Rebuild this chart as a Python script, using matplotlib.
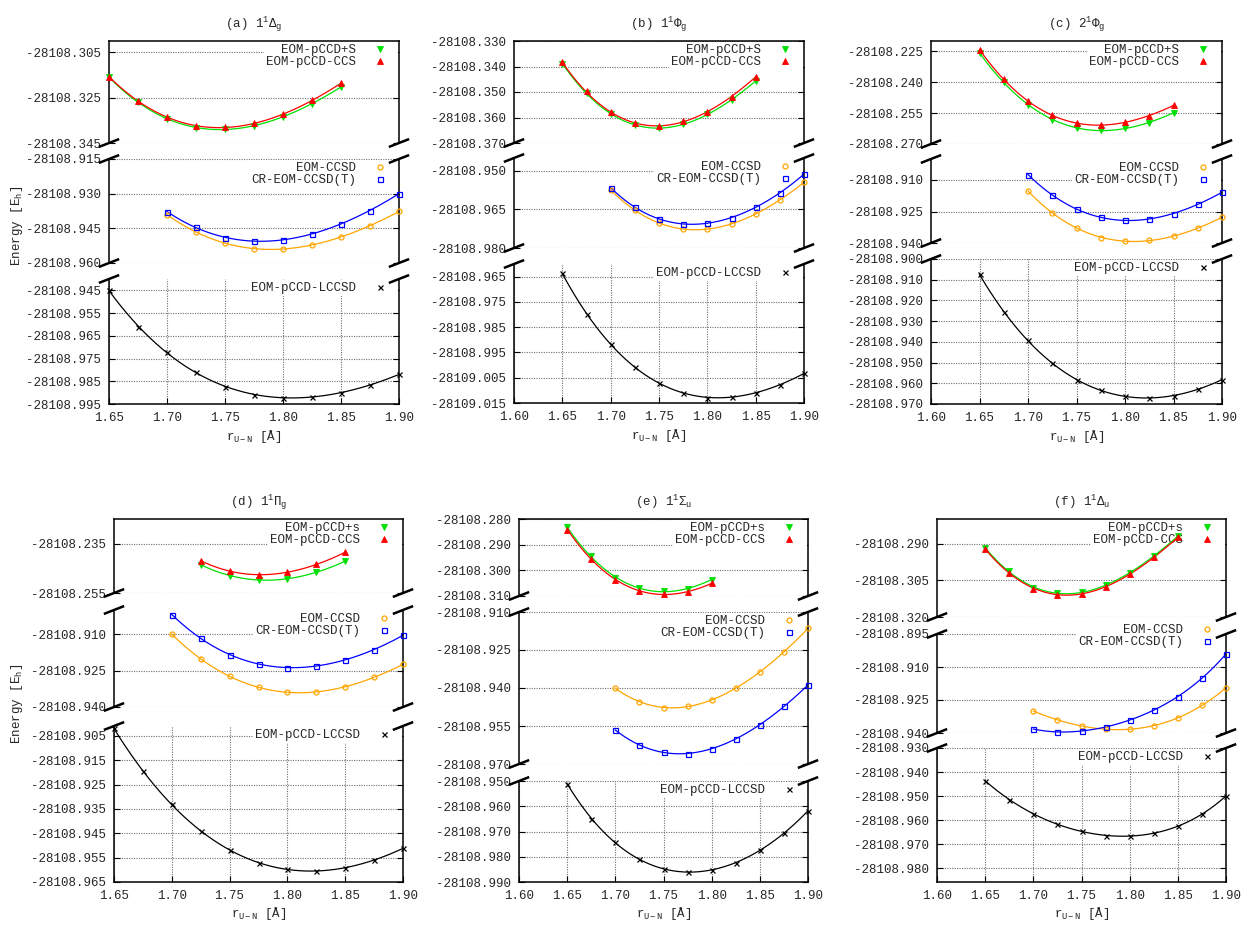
import numpy as np
import matplotlib.pyplot as plt
from matplotlib.lines import Line2D
from matplotlib.ticker import FormatStrFormatter

plt.rcParams['font.family'] = ['Liberation Mono', 'DejaVu Sans Mono']
plt.rcParams['mathtext.fontset'] = 'custom'
plt.rcParams['mathtext.rm'] = 'Liberation Mono'
plt.rcParams['mathtext.it'] = 'Liberation Mono'
plt.rcParams['mathtext.bf'] = 'Liberation Mono:bold'
plt.rcParams['axes.unicode_minus'] = False

# U-N bond lengths [Angstrom]
R_ALL = [1.65, 1.675, 1.70, 1.725, 1.75, 1.775, 1.80, 1.825, 1.85, 1.875, 1.90]
R_PCCD = R_ALL[:9]       # 1.65 .. 1.85
R_PCCD_D = R_ALL[3:9]    # 1.725 .. 1.85
R_PCCD_E = R_ALL[:7]     # 1.65 .. 1.80
R_CC = R_ALL[2:]         # 1.70 .. 1.90

# (a) 1 1Delta_g
a_pccd_s = [-28108.3160, -28108.3270, -28108.3343, -28108.3382, -28108.3389,
            -28108.3375, -28108.3334, -28108.3276, -28108.3203]
a_pccd_ccs = [-28108.3158, -28108.3263, -28108.3337, -28108.3375, -28108.3380,
              -28108.3363, -28108.3324, -28108.3262, -28108.3186]
a_ccsd = [-28108.9391, -28108.9465, -28108.9515, -28108.9538, -28108.9539,
          -28108.9522, -28108.9487, -28108.9439, -28108.9377]
a_cr = [-28108.9378, -28108.9446, -28108.9490, -28108.9505, -28108.9500,
        -28108.9474, -28108.9430, -28108.9373, -28108.9300]
a_lccsd = [-28108.9450, -28108.9610, -28108.9722, -28108.9811, -28108.9873, -28108.9909,
           -28108.9922, -28108.9919, -28108.9900, -28108.9866, -28108.9820]

# (b) 1 1Phi_g
b_pccd_s = [-28108.3389, -28108.3503, -28108.3587, -28108.3630, -28108.3641,
            -28108.3626, -28108.3588, -28108.3532, -28108.3456]
b_pccd_ccs = [-28108.3384, -28108.3498, -28108.3580, -28108.3622, -28108.3633,
              -28108.3615, -28108.3577, -28108.3519, -28108.3440]
b_ccsd = [-28108.9574, -28108.9654, -28108.9702, -28108.9726, -28108.9726,
          -28108.9707, -28108.9668, -28108.9612, -28108.9545]
b_cr = [-28108.9565, -28108.9642, -28108.9686, -28108.9707, -28108.9703,
        -28108.9682, -28108.9642, -28108.9585, -28108.9513]
b_lccsd = [-28108.9637, -28108.9799, -28108.9915, -28109.0008, -28109.0072, -28109.0110,
           -28109.0129, -28109.0126, -28109.0109, -28109.0078, -28109.0033]

# (c) 2 1Phi_g
c_pccd_s = [-28108.2258, -28108.2400, -28108.2509, -28108.2582, -28108.2621,
            -28108.2634, -28108.2624, -28108.2597, -28108.2548]
c_pccd_ccs = [-28108.2242, -28108.2385, -28108.2493, -28108.2561, -28108.2598,
              -28108.2608, -28108.2595, -28108.2562, -28108.2513]
c_ccsd = [-28108.9153, -28108.9255, -28108.9329, -28108.9374, -28108.9391,
          -28108.9387, -28108.9368, -28108.9330, -28108.9277]
c_cr = [-28108.9074, -28108.9172, -28108.9238, -28108.9278, -28108.9292,
        -28108.9286, -28108.9260, -28108.9215, -28108.9159]
c_lccsd = [-28108.9074, -28108.9256, -28108.9393, -28108.9502, -28108.9583, -28108.9634,
           -28108.9663, -28108.9671, -28108.9660, -28108.9628, -28108.9583]

# (d) 1 1Pi_g
d_pccd_s = [-28108.2435, -28108.2480, -28108.2496, -28108.2493, -28108.2466, -28108.2421]
d_pccd_ccs = [-28108.2419, -28108.2461, -28108.2476, -28108.2466, -28108.2434, -28108.2385]
d_ccsd = [-28108.9100, -28108.9201, -28108.9274, -28108.9319, -28108.9339,
          -28108.9338, -28108.9316, -28108.9278, -28108.9224]
d_cr = [-28108.9019, -28108.9116, -28108.9184, -28108.9223, -28108.9238,
        -28108.9230, -28108.9205, -28108.9164, -28108.9104]
d_lccsd = [-28108.9020, -28108.9196, -28108.9331, -28108.9440, -28108.9519, -28108.9571,
           -28108.9598, -28108.9605, -28108.9591, -28108.9560, -28108.9512]

# (e) 1 1Sigma_u
e_pccd_s = [-28108.2833, -28108.2945, -28108.3028, -28108.3070, -28108.3082,
            -28108.3071, -28108.3036]
e_pccd_ccs = [-28108.2841, -28108.2954, -28108.3037, -28108.3082, -28108.3092,
              -28108.3083, -28108.3051]
e_ccsd = [-28108.9401, -28108.9454, -28108.9477, -28108.9473, -28108.9447,
          -28108.9401, -28108.9337, -28108.9257, -28108.9165]
e_cr = [-28108.9566, -28108.9625, -28108.9654, -28108.9659, -28108.9639,
        -28108.9601, -28108.9545, -28108.9473, -28108.9388]
e_lccsd = [-28108.9510, -28108.9651, -28108.9743, -28108.9808, -28108.9849, -28108.9862,
           -28108.9852, -28108.9823, -28108.9774, -28108.9707, -28108.9618]

# (f) 1 1Delta_u
f_pccd_s = [-28108.2918, -28108.3013, -28108.3080, -28108.3103, -28108.3098,
            -28108.3071, -28108.3019, -28108.2952, -28108.2870]
f_pccd_ccs = [-28108.2923, -28108.3019, -28108.3084, -28108.3109, -28108.3105,
              -28108.3076, -28108.3026, -28108.2957, -28108.2875]
f_ccsd = [-28108.9300, -28108.9341, -28108.9368, -28108.9382, -28108.9382,
          -28108.9368, -28108.9332, -28108.9273, -28108.9195]
f_cr = [-28108.9382, -28108.9395, -28108.9391, -28108.9373, -28108.9341,
        -28108.9295, -28108.9236, -28108.9150, -28108.9041]
f_lccsd = [-28108.9436, -28108.9515, -28108.9575, -28108.9617, -28108.9645, -28108.9665,
           -28108.9668, -28108.9655, -28108.9625, -28108.9575, -28108.9500]

W, H = 1242, 925
TXT = '#262626'
FS = 9

STYLE = {
    'pccd_s': dict(color='#00e000', marker='v', ms=4.2, mfc='#00e000', mew=0.6),
    'pccd_ccs': dict(color='#ff0000', marker='^', ms=4.2, mfc='#ff0000', mew=0.6),
    'ccsd': dict(color='#ffa500', marker='o', ms=3.6, mfc='none', mew=0.9),
    'cr': dict(color='#0000ff', marker='s', ms=3.6, mfc='none', mew=0.9),
    'lccsd': dict(color='black', marker='x', ms=3.6, mew=0.9),
}
LABELS = {'ccsd': 'EOM-CCSD', 'cr': 'CR-EOM-CCSD(T)', 'lccsd': 'EOM-pCCD-LCCSD',
          'pccd_ccs': 'EOM-pCCD-CCS'}


def tick_range(a, b, step):
    return np.round(np.arange(a, b + step / 2, step), 4)


panels = [
    dict(title='(a) 1$^{1}$Δ$_{g}$', cols=(109, 399), xlim=(1.65, 1.90), plus='EOM-pCCD+S',
         rows=[(41, 143), (159, 263), (279, 404)],
         ylims=[(-28108.345, -28108.300), (-28108.960, -28108.915), (-28108.995, -28108.940)],
         yticks=[(-28108.345, -28108.305, 0.020), (-28108.960, -28108.915, 0.015),
                 (-28108.995, -28108.945, 0.010)],
         top=[(R_PCCD, a_pccd_s), (R_PCCD, a_pccd_ccs)],
         mid=[(R_CC, a_ccsd), (R_CC, a_cr)], bot=(R_ALL, a_lccsd)),
    dict(title='(b) 1$^{1}$Φ$_{g}$', cols=(514, 804), xlim=(1.60, 1.90), plus='EOM-pCCD+S',
         rows=[(41, 143), (158, 248), (264, 403)],
         ylims=[(-28108.370, -28108.330), (-28108.980, -28108.945), (-28109.015, -28108.960)],
         yticks=[(-28108.370, -28108.330, 0.010), (-28108.980, -28108.950, 0.015),
                 (-28109.015, -28108.965, 0.010)],
         top=[(R_PCCD, b_pccd_s), (R_PCCD, b_pccd_ccs)],
         mid=[(R_CC, b_ccsd), (R_CC, b_cr)], bot=(R_ALL, b_lccsd)),
    dict(title='(c) 2$^{1}$Φ$_{g}$', cols=(931, 1222), xlim=(1.60, 1.90), plus='EOM-pCCD+S',
         rows=[(41, 144), (159, 243), (259, 404)],
         ylims=[(-28108.270, -28108.220), (-28108.940, -28108.900), (-28108.970, -28108.900)],
         yticks=[(-28108.270, -28108.225, 0.015), (-28108.940, -28108.910, 0.015),
                 (-28108.970, -28108.900, 0.010)],
         top=[(R_PCCD, c_pccd_s), (R_PCCD, c_pccd_ccs)],
         mid=[(R_CC, c_ccsd), (R_CC, c_cr)], bot=(R_ALL, c_lccsd)),
    dict(title='(d) 1$^{1}$Π$_{g}$', cols=(114, 403), xlim=(1.65, 1.90), plus='EOM-pCCD+s',
         rows=[(519, 593), (610, 707), (726, 882)],
         ylims=[(-28108.255, -28108.225), (-28108.940, -28108.900), (-28108.965, -28108.901)],
         yticks=[(-28108.255, -28108.235, 0.020), (-28108.940, -28108.910, 0.015),
                 (-28108.965, -28108.905, 0.010)],
         top=[(R_PCCD_D, d_pccd_s), (R_PCCD_D, d_pccd_ccs)],
         mid=[(R_CC, d_ccsd), (R_CC, d_cr)], bot=(R_ALL, d_lccsd)),
    dict(title='(e) 1$^{1}$Σ$_{u}$', cols=(519, 808), xlim=(1.60, 1.90), plus='EOM-pCCD+s',
         rows=[(519, 596), (612, 764), (781, 882)],
         ylims=[(-28108.310, -28108.280), (-28108.970, -28108.910), (-28108.990, -28108.950)],
         yticks=[(-28108.310, -28108.280, 0.010), (-28108.970, -28108.910, 0.015),
                 (-28108.990, -28108.950, 0.010)],
         top=[(R_PCCD_E, e_pccd_s), (R_PCCD_E, e_pccd_ccs)],
         mid=[(R_CC, e_ccsd), (R_CC, e_cr)], bot=(R_ALL, e_lccsd)),
    dict(title='(f) 1$^{1}$Δ$_{u}$', cols=(937, 1226), xlim=(1.60, 1.90), plus='EOM-pCCD+s',
         rows=[(519, 617), (634, 733), (748, 882)],
         ylims=[(-28108.320, -28108.280), (-28108.940, -28108.895), (-28108.9858, -28108.930)],
         yticks=[(-28108.320, -28108.290, 0.015), (-28108.940, -28108.895, 0.015),
                 (-28108.980, -28108.930, 0.010)],
         mid_legend_shift=13,
         top=[(R_PCCD, f_pccd_s), (R_PCCD, f_pccd_ccs)],
         mid=[(R_CC, f_ccsd), (R_CC, f_cr)], bot=(R_ALL, f_lccsd)),
]

fig = plt.figure(figsize=(W / 100, H / 100), dpi=100)


def fig_box(x0, x1, y0, y1):
    return [x0 / W, 1 - y1 / H, (x1 - x0) / W, (y1 - y0) / H]


def draw_series(ax, r, e, key):
    st = STYLE[key]
    r = np.asarray(r)
    e = np.asarray(e)
    e0 = e.mean()
    deg = 4 if len(r) >= 9 else 3
    coef = np.polyfit(r - 1.775, e - e0, deg)
    rr = np.linspace(r[0], r[-1], 200)
    ax.plot(rr, np.polyval(coef, rr - 1.775) + e0, color=st['color'], lw=0.9, zorder=2)
    ax.plot(r, e, linestyle='none', zorder=3, clip_on=False, **st)


def add_legend(ax, keys, labels, shift_px=0, height_px=100):
    handles = [Line2D([], [], linestyle='none', **STYLE[k]) for k in keys]
    leg = ax.legend(handles, labels, loc='upper right', markerfirst=False, frameon=True,
                    bbox_to_anchor=(1, 1 + shift_px / height_px),
                    fancybox=False, framealpha=1, facecolor='white', edgecolor='none',
                    borderpad=0.15, borderaxespad=0.1, labelspacing=0.0,
                    handlelength=2.6, handletextpad=0.6, fontsize=FS, labelcolor=TXT)
    leg.set_zorder(1.5)


def break_marks(ax, where):
    pos = ax.get_position()
    y = pos.y1 if where == 'top' else pos.y0
    for x in (pos.x0, pos.x1):
        fig.add_artist(Line2D([x - 9 / W, x + 9 / W], [y - 3.5 / H, y + 3.5 / H],
                              color='black', lw=1.8, transform=fig.transFigure))


for p in panels:
    x0, x1 = p['cols']
    axes = []
    for i, (y0, y1) in enumerate(p['rows']):
        ax = fig.add_axes(fig_box(x0, x1, y0, y1))
        ax.set_axisbelow(True)
        ax.set_xlim(*p['xlim'])
        lo, hi = p['ylims'][i]
        ax.set_ylim(lo, hi)
        ax.set_yticks(tick_range(*p['yticks'][i]))
        ax.yaxis.set_major_formatter(FormatStrFormatter('%.3f'))
        ax.tick_params(axis='y', direction='in', left=True, right=True, length=4,
                       width=0.8, labelsize=FS, labelcolor=TXT, pad=6)
        ax.grid(axis='y', color='#707070', linestyle=(0, (1, 1.2)), lw=0.8)
        for s in ax.spines.values():
            s.set_linewidth(1.1)
        axes.append(ax)

    ax_top, ax_mid, ax_bot = axes
    for ax in (ax_top, ax_mid):
        ax.set_xticks([])
    ax_top.spines['bottom'].set_visible(False)
    ax_mid.spines['top'].set_visible(False)
    ax_mid.spines['bottom'].set_visible(False)
    ax_bot.spines['top'].set_visible(False)

    ax_bot.set_xticks(tick_range(p['xlim'][0], 1.90, 0.05))
    ax_bot.xaxis.set_major_formatter(FormatStrFormatter('%.2f'))
    ax_bot.tick_params(axis='x', direction='in', top=False, length=4, width=0.8,
                       labelsize=FS, labelcolor=TXT, pad=6)
    ax_bot.grid(axis='x', color='#707070', linestyle=(0, (1, 1.2)), lw=0.8)

    (r1, e1), (r2, e2) = p['top']
    draw_series(ax_top, r1, e1, 'pccd_s')
    draw_series(ax_top, r2, e2, 'pccd_ccs')
    add_legend(ax_top, ['pccd_s', 'pccd_ccs'], [p['plus'], LABELS['pccd_ccs']])

    (r1, e1), (r2, e2) = p['mid']
    draw_series(ax_mid, r1, e1, 'ccsd')
    draw_series(ax_mid, r2, e2, 'cr')
    mid_h = p['rows'][1][1] - p['rows'][1][0]
    add_legend(ax_mid, ['ccsd', 'cr'], [LABELS['ccsd'], LABELS['cr']],
               shift_px=p.get('mid_legend_shift', 0), height_px=mid_h)

    r1, e1 = p['bot']
    draw_series(ax_bot, r1, e1, 'lccsd')
    add_legend(ax_bot, ['lccsd'], [LABELS['lccsd']])

    break_marks(ax_top, 'bottom')
    break_marks(ax_mid, 'top')
    break_marks(ax_mid, 'bottom')
    break_marks(ax_bot, 'top')

    xc = (x0 + x1) / 2 / W
    row_top = p['rows'][0][0]
    row_bot = p['rows'][2][1]
    fig.text(xc, 1 - (row_top - 13) / H, p['title'], ha='center', va='baseline',
             fontsize=FS, color=TXT)
    fig.text(xc, 1 - (row_bot + 32) / H, 'r$_{U-N}$ [Å]', ha='center', va='center',
             fontsize=FS, color=TXT)

fig.text(17 / W, 1 - 226 / H, 'Energy [E$_{h}$]', rotation=90, ha='center', va='center',
         fontsize=FS, color=TXT)
fig.text(17 / W, 1 - 704 / H, 'Energy [E$_{h}$]', rotation=90, ha='center', va='center',
         fontsize=FS, color=TXT)

fig.savefig('out.png', dpi=100, facecolor='white')
